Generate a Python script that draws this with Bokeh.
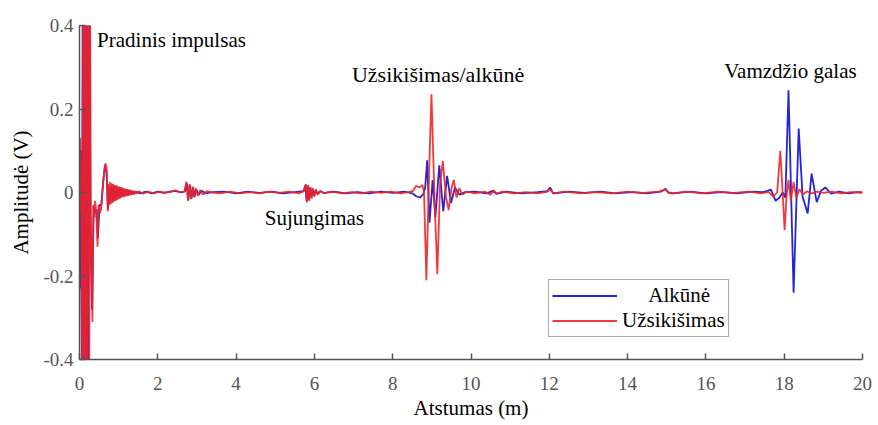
from bokeh.plotting import figure
from bokeh.models import Range1d, FixedTicker, Legend, LegendItem, Label
from bokeh.embed import file_html
from bokeh.resources import INLINE

# Reflectogram traces: distance along the pipe (m) and amplitude (V)
alkune_x = [
    0.00, 0.01, 0.03, 0.06, 0.08, 0.10, 0.12, 0.14, 0.16, 0.18, 0.20, 0.22, 0.24, 0.26, 0.28, 0.32, 0.36, 0.40, 0.44, 0.47, 0.51, 0.56, 0.61, 0.65, 0.69, 0.73,
    0.76, 0.79, 0.82, 0.85, 0.88, 0.91, 0.94, 0.97, 1.00, 1.03, 1.06, 1.09, 1.12, 1.15, 1.18, 1.21, 1.24, 1.27, 1.30, 1.33, 1.36, 1.39, 1.42,
    1.55, 1.70, 1.85, 2.00, 2.15, 2.30, 2.45, 2.60, 2.69, 2.74, 2.78, 2.82, 2.86, 2.90, 2.94, 2.98, 3.04, 3.12, 3.22, 3.40,
    3.70, 4.00, 4.30, 4.60, 4.90, 5.20, 5.50, 5.72, 5.77, 5.80, 5.83, 5.86, 5.89, 5.92, 5.95, 5.99, 6.03, 6.08, 6.14, 6.24,
    6.50, 6.80, 7.10, 7.40, 7.70, 8.00, 8.30, 8.50, 8.60, 8.70, 8.78, 8.83, 8.88, 8.94, 9.02, 9.09, 9.19, 9.29, 9.39, 9.49, 9.59, 9.70, 9.85,
    10.10, 10.40, 10.55, 10.65, 10.90, 11.30, 11.70, 11.95, 12.02, 12.10, 12.50, 12.90, 13.30, 13.70, 14.10, 14.50, 14.85, 14.97, 15.04, 15.15, 15.60, 16.00, 16.40, 16.80, 17.20, 17.45,
    17.58, 17.66, 17.78, 17.88, 17.96, 18.03, 18.11, 18.24, 18.37, 18.47, 18.60, 18.70, 18.83, 18.94, 19.05, 19.20, 19.40, 19.65, 19.85, 20.00,
]
alkune_y = [
    -0.23, -0.14, 0.10, -0.45, 0.45, -0.45, 0.45, -0.45, 0.45, -0.45, 0.45, -0.45, 0.26, 0.45, -0.10, -0.28, -0.03, -0.05, -0.04, -0.11, -0.03, -0.03, 0.03, 0.065, 0.05, -0.04,
    0.015, -0.022, 0.018, -0.020, 0.016, -0.017, 0.014, -0.014, 0.012, -0.012, 0.010, -0.010, 0.009, -0.008, 0.007, -0.007, 0.006, -0.005, 0.005, -0.004, 0.003, -0.003, 0.002,
    -0.002, 0.002, -0.002, 0.002, -0.001, 0.002, 0.004, 0.000, 0.003, 0.022, -0.018, 0.017, -0.014, 0.012, -0.010, 0.008, -0.006, 0.004, -0.002, 0.001,
    0.002, -0.002, 0.002, -0.001, 0.002, -0.002, 0.001, 0.003, 0.017, -0.020, 0.016, -0.017, 0.012, -0.012, 0.009, -0.008, 0.006, -0.004, 0.003, -0.001,
    0.002, -0.002, 0.001, -0.002, 0.002, -0.001, 0.002, -0.002, -0.009, -0.012, -0.004, 0.012, 0.077, -0.072, 0.030, -0.060, 0.065, -0.045, 0.040, -0.025, 0.012, -0.005, 0.001,
    0.002, -0.002, 0.004, -0.003, 0.002, -0.002, 0.001, 0.003, 0.012, -0.002, 0.002, -0.001, 0.002, -0.002, 0.001, -0.002, 0.002, 0.009, 0.000, -0.002, 0.002, -0.002, 0.001, -0.002, 0.002, 0.001,
    0.004, 0.007, -0.020, -0.012, 0.000, -0.012, 0.245, -0.240, 0.153, -0.010, -0.050, 0.045, -0.023, 0.004, 0.012, -0.003, 0.002, -0.002, 0.001, 0.000,
]

uzsikisimas_x = [
    0.00, 0.02, 0.04, 0.07, 0.09, 0.11, 0.13, 0.15, 0.17, 0.19, 0.21, 0.23, 0.25, 0.27, 0.29, 0.33, 0.36, 0.38, 0.40, 0.43, 0.46, 0.49, 0.52, 0.55, 0.58, 0.62, 0.66, 0.69, 0.72,
    0.74, 0.76, 0.78, 0.80, 0.82, 0.84, 0.86, 0.88, 0.90, 0.92, 0.94, 0.96, 0.98, 1.00, 1.02, 1.04, 1.06, 1.08, 1.10, 1.12, 1.14, 1.16, 1.18, 1.20, 1.22, 1.24, 1.26, 1.28, 1.30, 1.32, 1.34, 1.36, 1.38, 1.40, 1.42, 1.44,
    1.52, 1.62, 1.75, 1.90, 2.05, 2.20, 2.35, 2.45, 2.55, 2.68, 2.73, 2.77, 2.81, 2.85, 2.89, 2.93, 2.97, 3.02, 3.08, 3.15, 3.25, 3.40,
    3.60, 3.85, 4.10, 4.35, 4.60, 4.85, 5.10, 5.35, 5.60, 5.74, 5.78, 5.81, 5.84, 5.87, 5.90, 5.93, 5.96, 6.00, 6.04, 6.09, 6.15, 6.25,
    6.45, 6.70, 6.95, 7.20, 7.45, 7.70, 7.95, 8.20, 8.40, 8.52, 8.60, 8.68, 8.76, 8.80, 8.86, 8.93, 8.99, 9.07, 9.14, 9.21, 9.28, 9.36, 9.43, 9.50, 9.56, 9.63, 9.70, 9.78, 9.90,
    10.10, 10.35, 10.50, 10.58, 10.66, 10.80, 11.10, 11.40, 11.70, 11.95, 12.02, 12.10, 12.40, 12.80, 13.20, 13.60, 14.00, 14.40, 14.80, 14.97, 15.04, 15.15, 15.50, 15.90, 16.30, 16.70, 17.10, 17.40,
    17.60, 17.72, 17.82, 17.90, 17.96, 18.01, 18.06, 18.11, 18.17, 18.24, 18.31, 18.39, 18.48, 18.58, 18.70, 18.85, 19.00, 19.20, 19.45, 19.70, 20.00,
]
uzsikisimas_y = [
    -0.05, 0.13, 0.02, -0.45, 0.45, -0.45, 0.45, -0.45, 0.45, -0.45, 0.45, 0.28, -0.45, 0.45, -0.05, -0.31, -0.03, -0.06, -0.02, -0.05, -0.13, -0.03, -0.05, -0.04, 0.00, 0.04, 0.07, 0.06, -0.045,
    0.020, -0.030, 0.025, -0.028, 0.022, -0.025, 0.020, -0.022, 0.018, -0.020, 0.017, -0.018, 0.015, -0.016, 0.014, -0.014, 0.013, -0.012, 0.012, -0.011, 0.010, -0.010, 0.009, -0.009, 0.008, -0.008, 0.007, -0.007, 0.006, -0.006, 0.005, -0.005, 0.004, -0.004, 0.003, -0.003,
    0.003, -0.003, 0.002, -0.002, 0.002, -0.001, 0.002, 0.005, 0.001, 0.002, 0.026, -0.020, 0.020, -0.016, 0.014, -0.012, 0.010, -0.008, 0.006, -0.005, 0.003, 0.000,
    -0.002, 0.002, -0.002, 0.001, -0.002, 0.002, -0.001, 0.002, -0.002, 0.004, 0.020, -0.024, 0.018, -0.020, 0.013, -0.014, 0.010, -0.010, 0.007, -0.005, 0.004, -0.002,
    0.002, -0.002, 0.001, -0.002, 0.002, -0.001, 0.002, -0.002, 0.001, 0.004, 0.016, 0.012, 0.018, 0.000, -0.210, 0.050, 0.235, -0.020, -0.195, 0.020, 0.075, -0.010, -0.042, 0.010, 0.030, -0.012, 0.010, -0.005, 0.002,
    -0.002, 0.002, -0.005, 0.005, -0.003, 0.002, -0.002, 0.001, -0.002, 0.002, 0.008, -0.002, 0.002, -0.002, 0.001, -0.002, 0.002, -0.001, 0.002, 0.007, 0.000, -0.002, 0.002, -0.002, 0.002, -0.001, 0.002, -0.002,
    0.001, -0.010, 0.000, 0.100, 0.000, -0.090, -0.010, 0.030, -0.020, 0.025, -0.012, 0.008, -0.005, 0.003, -0.002, 0.002, -0.001, 0.002, -0.002, 0.001, 0.000,
]

x_ticks = [0, 2, 4, 6, 8, 10, 12, 14, 16, 18, 20]
y_ticks = [-0.4, -0.2, 0, 0.2, 0.4]
y_tick_labels = ["-0.4", "-0.2", "0", "0.2", "0.4"]

SERIF = "Liberation Serif"
BLUE = "#2424d8"
RED = "#f22424"
AXIS = "#555555"

p = figure(
    width=878, height=425,
    output_backend="svg", toolbar_location=None,
    x_range=Range1d(0, 20), y_range=Range1d(-0.4, 0.4),
    min_border_left=79, min_border_right=16,
    min_border_top=25, min_border_bottom=66,
    x_axis_label="Atstumas (m)", y_axis_label="Amplitudė (V)",
)
p.outline_line_color = None
p.grid.visible = False
p.background_fill_color = "white"
p.border_fill_color = "white"

for ax in (p.xaxis[0], p.yaxis[0]):
    ax.axis_line_color = AXIS
    ax.axis_line_width = 1.5
    ax.major_tick_line_color = AXIS
    ax.major_tick_line_width = 1.5
    ax.major_tick_in = 6
    ax.major_tick_out = 0
    ax.minor_tick_line_color = None
    ax.major_label_text_font = SERIF
    ax.major_label_text_font_size = "19px"
    ax.major_label_text_color = AXIS
    ax.axis_label_text_font = SERIF
    ax.axis_label_text_font_size = "21px"
    ax.axis_label_text_font_style = "normal"
    ax.axis_label_text_color = "black"

p.xaxis.ticker = FixedTicker(ticks=x_ticks)
p.yaxis.ticker = FixedTicker(ticks=y_ticks)
p.yaxis.major_label_overrides = dict(zip(y_ticks, y_tick_labels))
p.xaxis.major_label_standoff = 17
p.xaxis.axis_label_standoff = 3
p.yaxis.major_label_standoff = 6
p.yaxis.axis_label_standoff = 7

r_blue = p.line(alkune_x, alkune_y, line_color=BLUE, line_width=1.8)
r_red = p.line(uzsikisimas_x, uzsikisimas_y, line_color=RED, line_width=1.8, line_alpha=0.9)

notes = [
    ("Pradinis impulsas", 0.45, 0.365, "left", "21px"),
    ("Užsikišimas/alkūnė", 9.16, 0.282, "center", "22px"),
    ("Vamzdžio galas", 18.16, 0.29, "center", "21px"),
    ("Sujungimas", 6.0, -0.062, "center", "21px"),
]
for text, x, y, align, size in notes:
    p.add_layout(Label(x=x, y=y, text=text, text_font=SERIF, text_font_size=size,
                       text_color="black", text_align=align, text_baseline="middle"))

legend = Legend(
    items=[
        LegendItem(label="\u00a0" * 5 + "Alkūnė", renderers=[r_blue]),
        LegendItem(label="Užsikišimas", renderers=[r_red]),
    ],
    location=(469, 22),
    orientation="vertical",
    padding=3, spacing=0, margin=0,
    glyph_width=65, glyph_height=21, label_height=21, label_standoff=5,
    label_text_font=SERIF, label_text_font_size="21px", label_text_color="black",
    border_line_color="#555555", border_line_width=1.5,
    background_fill_color="white", background_fill_alpha=1.0,
)
p.add_layout(legend)

open("out.html", "w").write(file_html(p, INLINE))
